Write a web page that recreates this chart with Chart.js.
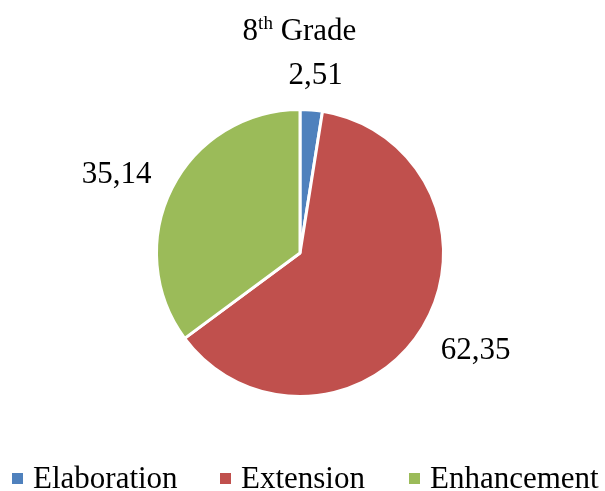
<!DOCTYPE html>
<html>
<head>
<meta charset="utf-8">
<script src="https://cdn.jsdelivr.net/npm/chart.js@4.4.0/dist/chart.umd.min.js"></script>
<style>
  body { margin: 0; background: #fff; }
  #wrap { position: relative; width: 605px; height: 491px; font-family: "Liberation Serif", "Times New Roman", serif; color: #000; }
  #chart { position: absolute; left: 0; top: 0; }
  #title { position: absolute; top: 13px; left: 0; width: 599px; text-align: center; font-size: 31px; line-height: 34px; }
  #title sup { font-size: 19px; vertical-align: 11px; line-height: 0; }
  #legend { position: absolute; top: 461px; left: 0; height: 34px; font-size: 31px; line-height: 34px; white-space: nowrap; }
  #legend span.item { position: absolute; top: 0; }
  #legend span.box { position: absolute; width: 11px; height: 11px; top: 12px; }
</style>
</head>
<body>
<div id="wrap">
  <canvas id="chart" width="605" height="491"></canvas>
  <div id="title">8<sup>th</sup> Grade</div>
  <div id="legend"></div>
</div>
<script>
// 8th grade pie data
const categories = ['Elaboration', 'Extension', 'Enhancement'];
const values = [2.51, 62.35, 35.14];
const valueLabels = ['2,51', '62,35', '35,14'];
const colors = ['#4F81BD', '#C0504D', '#9BBB59'];

// labels outside the slices
const outsideLabels = {
    id: 'outsideLabels',
    afterDatasetsDraw(chart) {
        const ctx = chart.ctx;
        const meta = chart.getDatasetMeta(0);
        ctx.save();
        ctx.font = '31px "Liberation Serif", "Times New Roman", serif';
        ctx.fillStyle = '#000';
        ctx.textAlign = 'center';
        ctx.textBaseline = 'middle';
        meta.data.forEach((arc, i) => {
            const mid = (arc.startAngle + arc.endAngle) / 2;
            const dx = Math.cos(mid), dy = Math.sin(mid);
            const r = arc.outerRadius + 27;
            const w = ctx.measureText(valueLabels[i]).width;
            const h = 22;
            const x = arc.x + r * dx + dx * w / 2;
            const y = arc.y + r * dy + dy * h / 2 + 4;
            ctx.fillText(valueLabels[i], x, y);
        });
        ctx.restore();
    }
};

new Chart(document.getElementById('chart'), {
    type: 'pie',
    data: {
        labels: categories,
        datasets: [{
            data: values,
            backgroundColor: colors,
            borderColor: '#fff',
            borderWidth: 3
        }]
    },
    options: {
        responsive: false,
        animation: false,
        layout: { padding: { top: 108, bottom: 93, left: 155, right: 160 } },
        plugins: {
            legend: { display: false },
            title: { display: false },
            tooltip: { enabled: false }
        }
    },
    plugins: [outsideLabels]
});

// legend
const legendEl = document.getElementById('legend');
const legendX = [12, 220, 409];
categories.forEach((c, i) => {
    const item = document.createElement('span');
    item.className = 'item';
    item.style.left = legendX[i] + 'px';
    const box = document.createElement('span');
    box.className = 'box';
    box.style.background = colors[i];
    box.style.left = '0px';
    const txt = document.createElement('span');
    txt.style.marginLeft = '21px';
    txt.textContent = c;
    item.appendChild(box);
    item.appendChild(txt);
    legendEl.appendChild(item);
});
</script>
</body>
</html>
